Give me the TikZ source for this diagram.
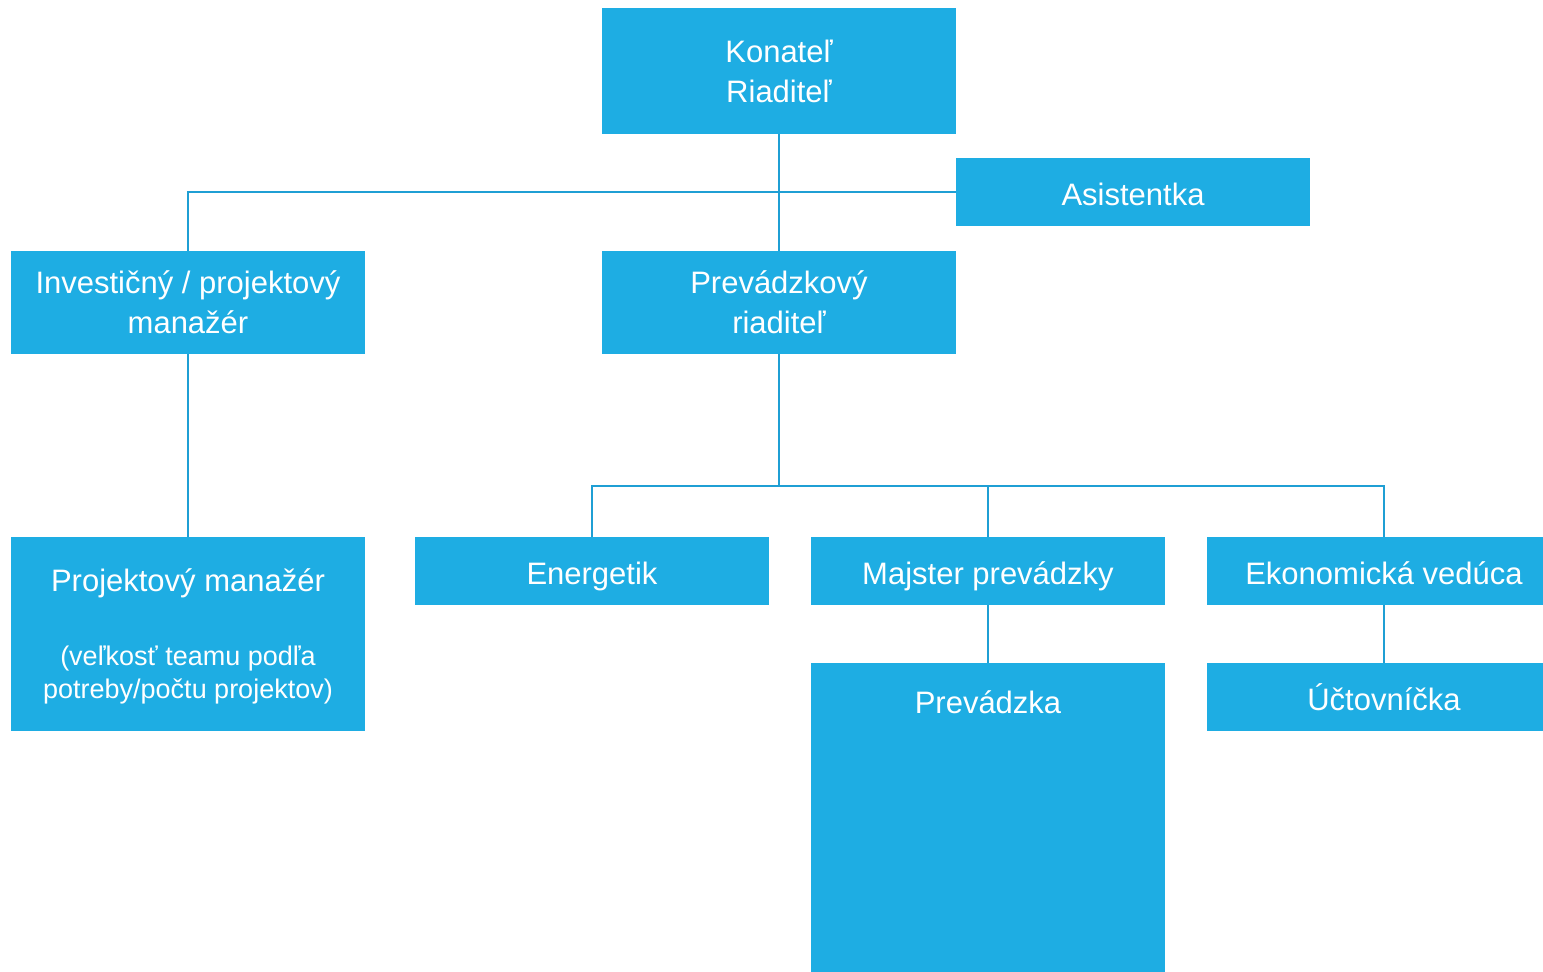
\documentclass[tikz,border=0pt]{standalone}
\usepackage{fontspec}
\setmainfont{Liberation Sans}
\definecolor{boxcyan}{HTML}{1EADE3}
\definecolor{linecyan}{HTML}{1F9FD4}
\newcommand{\smalltxt}{\fontsize{13.5}{16.5}\selectfont}
\begin{document}
\begin{tikzpicture}[x=0.5pt,y=-0.5pt,
  box/.style={fill=boxcyan,text=white,align=center,inner sep=0pt,
              minimum width=177pt,font=\fontsize{15.5}{20}\selectfont},
  oneline/.style={box,minimum height=34pt,text height=13pt,text depth=0pt},
  wire/.style={draw=linecyan,line width=1pt}]
\clip (0,0) rectangle (1543,971);
\node[box,minimum height=63pt]   (Kon) at (779,71)    {Konateľ\\Riaditeľ};
\node[oneline]                   (Asi) at (1133,192)  {Asistentka};
\node[box,minimum height=51.5pt] (Inv) at (188,302.5) {Investičný / projektový\\manažér};
\node[box,minimum height=51.5pt] (Pri) at (779,302.5) {Prevádzkový\\riaditeľ};
\node[box,minimum height=97pt,text depth=-5pt] (Prm) at (188,634)
  {Projektový manažér\\[17pt]\smalltxt (veľkosť teamu podľa\\[-3.5pt]\smalltxt potreby/počtu projektov)};
\node[oneline]                   (Ene) at (592,571)   {Energetik};
\node[oneline]                   (Maj) at (988,571)   {Majster prevádzky};
\node[oneline]                   (Eko) at (1384,571)  {Ekonomická vedúca};
\node[box,minimum height=177pt,
      label={[text=white,font=\fontsize{15.5}{20}\selectfont,anchor=north,yshift=-10.5pt]north:Prevádzka}]
                                 (Pre) at (988,840)   {};
\node[oneline]                   (Uct) at (1384,697)  {Účtovníčka};
\coordinate (bus) at (779,486);
\draw[wire] (Kon) -- (Pri);
\draw[wire] (Inv) |- (Asi);
\draw[wire] (Inv) -- (Prm);
\draw[wire] (Pri) -- (bus);
\draw[wire] (bus) -| (Ene);
\draw[wire] (bus) -| (Maj);
\draw[wire] (bus) -| (Eko);
\draw[wire] (Maj) -- (Pre);
\draw[wire] (Eko) -- (Uct);
\end{tikzpicture}
\end{document}
